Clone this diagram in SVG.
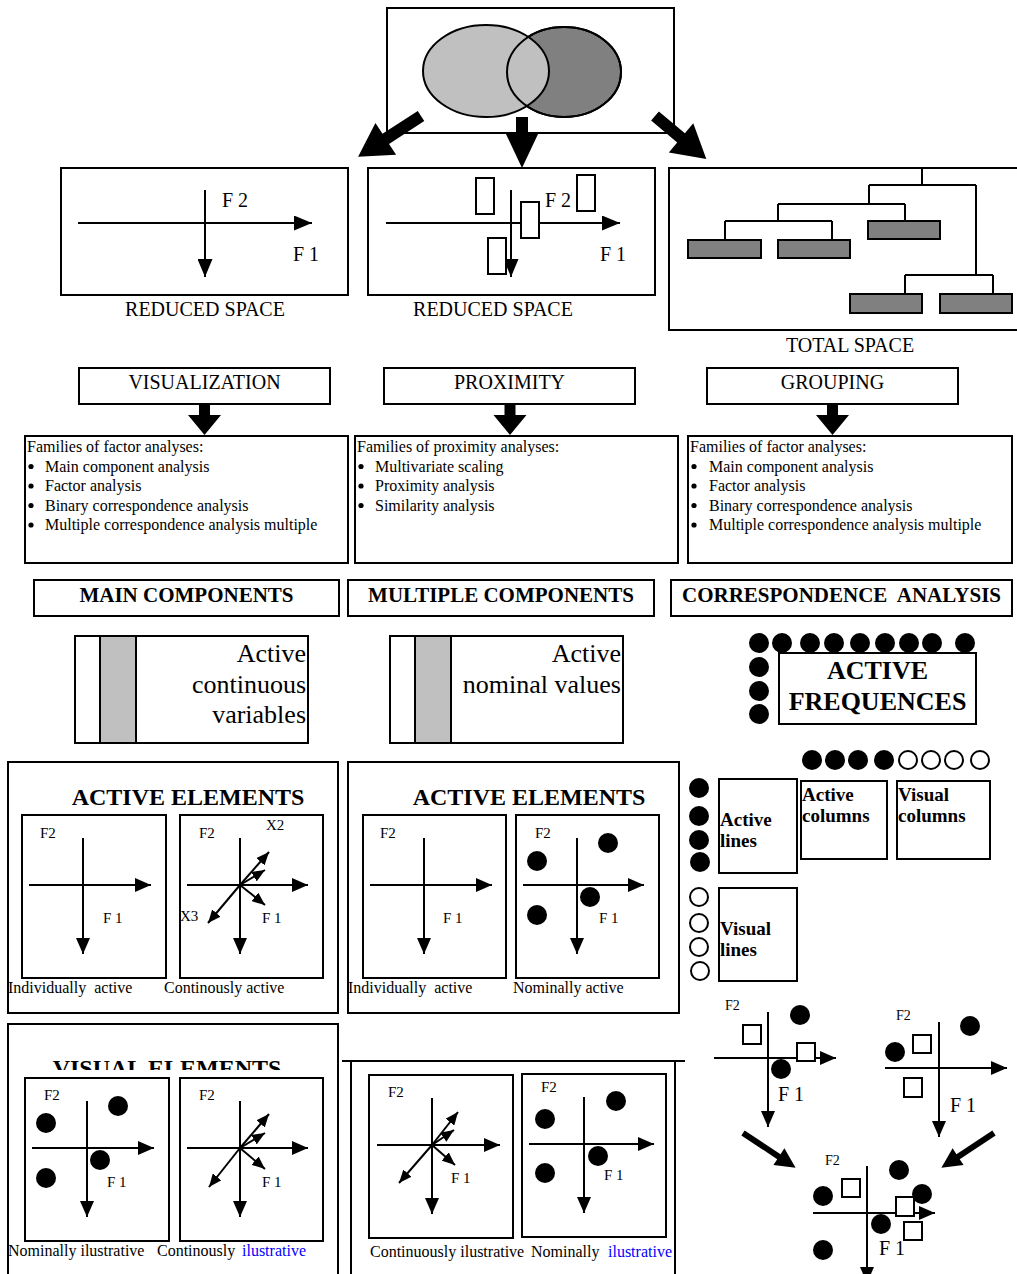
<svg xmlns="http://www.w3.org/2000/svg" width="1017" height="1274" viewBox="0 0 1017 1274">
<style>
.b{fill:#fff;stroke:#000;stroke-width:2}
.n{fill:none;stroke:#000;stroke-width:2}
.t{font-family:"Liberation Serif","Times New Roman",serif;fill:#000}
.s16{font-size:16px}
.s15{font-size:15px}
.s14{font-size:14px}
.s20{font-size:20px}
.bd{font-weight:bold}
.ax{stroke:#000;stroke-width:2;fill:none;marker-end:url(#ah)}
.axl{stroke:#000;stroke-width:2;fill:none;marker-end:url(#ahL)}
.vc{stroke:#000;stroke-width:2;fill:none;marker-end:url(#av)}
.dot{fill:#000}
.od{fill:#fff;stroke:#000;stroke-width:2}
.sq{fill:#fff;stroke:#000;stroke-width:2}
.blk{fill:#000}
.blue{fill:#0000ff}
.pre{white-space:pre}
</style>
<defs>
<marker id="ah" viewBox="0 0 16 14" refX="16" refY="7" markerWidth="16" markerHeight="14" orient="auto" markerUnits="userSpaceOnUse"><path d="M0,0 L16,7 L0,14 z" fill="#000"/></marker>
<marker id="ahL" viewBox="0 0 18 15" refX="18" refY="7.5" markerWidth="18" markerHeight="15" orient="auto" markerUnits="userSpaceOnUse"><path d="M0,0 L18,7.5 L0,15 z" fill="#000"/></marker>
<marker id="av" viewBox="0 0 13 11" refX="13" refY="5.5" markerWidth="13" markerHeight="11" orient="auto" markerUnits="userSpaceOnUse"><path d="M0,0 L13,5.5 L0,11 z" fill="#000"/></marker>
<clipPath id="clipTitle"><rect x="8" y="1024" width="330" height="46"/></clipPath>
</defs>

<g id="venn">
<rect class="b" x="387" y="8" width="287" height="125"/>
<ellipse cx="564" cy="72" rx="57" ry="45" fill="#808080" stroke="#000" stroke-width="2"/>
<ellipse cx="486" cy="71" rx="63" ry="46" fill="#c0c0c0" stroke="#000" stroke-width="2"/>
<ellipse cx="564" cy="72" rx="57" ry="45" class="n"/>
</g>

<g id="reduced1">
<rect class="b" x="61" y="168" width="287" height="127"/>
<line class="axl" x1="78" y1="223" x2="312" y2="223"/>
<line class="axl" x1="205" y1="190" x2="205" y2="277"/>
<text class="t s20" x="222" y="207">F 2</text>
<text class="t s20" x="293" y="261">F 1</text>
<text class="t s20" x="205" y="316" text-anchor="middle">REDUCED SPACE</text>
</g>

<g id="reduced2">
<rect class="b" x="368" y="168" width="287" height="127"/>
<line class="axl" x1="386" y1="223" x2="620" y2="223"/>
<line class="axl" x1="511" y1="190" x2="511" y2="277"/>
<rect class="sq" x="476" y="178" width="18" height="36"/>
<rect class="sq" x="521" y="202" width="18" height="36"/>
<rect class="sq" x="488" y="238" width="18" height="36"/>
<rect class="sq" x="577" y="175" width="18" height="36"/>
<text class="t s20" x="545" y="207">F 2</text>
<text class="t s20" x="600" y="261">F 1</text>
<text class="t s20" x="493" y="316" text-anchor="middle">REDUCED SPACE</text>
</g>

<g id="total">
<path class="n" d="M1017,168 H669 V330 H1017"/>
<path class="n" d="M922,168 V185 M869,185 H976 M869,185 V204 M778,204 H905 M778,204 V221 M725,221 H832 M725,221 V240 M832,221 V240 M905,204 V221 M976,185 V275 M905,275 H993 M905,275 V294 M993,275 V294"/>
<rect x="688" y="240" width="73" height="18" fill="#808080" stroke="#000" stroke-width="2"/>
<rect x="778" y="240" width="72" height="18" fill="#808080" stroke="#000" stroke-width="2"/>
<rect x="868" y="221" width="72" height="18" fill="#808080" stroke="#000" stroke-width="2"/>
<rect x="850" y="294" width="72" height="19" fill="#808080" stroke="#000" stroke-width="2"/>
<rect x="940" y="294" width="72" height="19" fill="#808080" stroke="#000" stroke-width="2"/>
<text class="t s20" x="850" y="352" text-anchor="middle">TOTAL SPACE</text>
</g>

<g id="visualization">
<rect class="b" x="79" y="368" width="251" height="36"/>
<text class="t s20" x="204.5" y="389" text-anchor="middle">VISUALIZATION</text>
</g>
<g id="proximity">
<rect class="b" x="384" y="368" width="251" height="36"/>
<text class="t s20" x="509.5" y="389" text-anchor="middle">PROXIMITY</text>
</g>
<g id="grouping">
<rect class="b" x="707" y="368" width="251" height="36"/>
<text class="t s20" x="832.5" y="389" text-anchor="middle">GROUPING</text>
</g>

<g id="fam1">
<rect class="b" x="25" y="436" width="323" height="127"/>
<text class="t s16" x="27" y="452">Families of factor analyses:</text>
<circle class="dot" cx="31" cy="466.5" r="2.6"/><text class="t s16" x="45" y="471.5">Main component analysis</text>
<circle class="dot" cx="31" cy="486" r="2.6"/><text class="t s16" x="45" y="491">Factor analysis</text>
<circle class="dot" cx="31" cy="505.5" r="2.6"/><text class="t s16" x="45" y="510.5">Binary correspondence analysis</text>
<circle class="dot" cx="31" cy="525" r="2.6"/><text class="t s16" x="45" y="530">Multiple correspondence analysis multiple</text>
</g>
<g id="fam2">
<rect class="b" x="355" y="436" width="323" height="127"/>
<text class="t s16" x="357" y="452">Families of proximity analyses:</text>
<circle class="dot" cx="361" cy="466.5" r="2.6"/><text class="t s16" x="375" y="471.5">Multivariate scaling</text>
<circle class="dot" cx="361" cy="486" r="2.6"/><text class="t s16" x="375" y="491">Proximity analysis</text>
<circle class="dot" cx="361" cy="505.5" r="2.6"/><text class="t s16" x="375" y="510.5">Similarity analysis</text>
</g>
<g id="fam3">
<rect class="b" x="688" y="436" width="324" height="127"/>
<text class="t s16" x="690" y="452">Families of factor analyses:</text>
<circle class="dot" cx="694" cy="466.5" r="2.6"/><text class="t s16" x="709" y="471.5">Main component analysis</text>
<circle class="dot" cx="694" cy="486" r="2.6"/><text class="t s16" x="709" y="491">Factor analysis</text>
<circle class="dot" cx="694" cy="505.5" r="2.6"/><text class="t s16" x="709" y="510.5">Binary correspondence analysis</text>
<circle class="dot" cx="694" cy="525" r="2.6"/><text class="t s16" x="709" y="530">Multiple correspondence analysis multiple</text>
</g>

<g id="hdr1">
<rect class="b" x="34" y="580" width="305" height="36"/>
<text class="t bd" font-size="21" x="186.5" y="602" text-anchor="middle">MAIN COMPONENTS</text>
</g>
<g id="hdr2">
<rect class="b" x="348" y="580" width="306" height="36"/>
<text class="t bd" font-size="21" x="501" y="602" text-anchor="middle">MULTIPLE COMPONENTS</text>
</g>
<g id="hdr3">
<rect class="b" x="671" y="580" width="341" height="36"/>
<text class="t bd pre" font-size="21" x="841.5" y="602" text-anchor="middle">CORRESPONDENCE  ANALYSIS</text>
</g>

<g id="activeCont">
<rect class="b" x="75" y="636" width="233" height="107"/>
<rect x="100" y="636" width="36" height="107" fill="#c0c0c0" stroke="#000" stroke-width="2"/>
<text class="t" font-size="26" x="306" y="662" text-anchor="end">Active</text>
<text class="t" font-size="26" x="306" y="693" text-anchor="end">continuous</text>
<text class="t" font-size="26" x="306" y="723" text-anchor="end">variables</text>
</g>
<g id="activeNom">
<rect class="b" x="390" y="636" width="233" height="107"/>
<rect x="415" y="636" width="36" height="107" fill="#c0c0c0" stroke="#000" stroke-width="2"/>
<text class="t" font-size="26" x="621" y="662" text-anchor="end">Active</text>
<text class="t" font-size="26" x="621" y="693" text-anchor="end">nominal values</text>
</g>

<g id="activeFreq">
<circle class="dot" cx="759" cy="643" r="10"/>
<circle class="dot" cx="782" cy="643" r="10"/>
<circle class="dot" cx="810" cy="643" r="10"/>
<circle class="dot" cx="834" cy="643" r="10"/>
<circle class="dot" cx="860" cy="643" r="10"/>
<circle class="dot" cx="885" cy="643" r="10"/>
<circle class="dot" cx="909" cy="643" r="10"/>
<circle class="dot" cx="932" cy="643" r="10"/>
<circle class="dot" cx="965" cy="643" r="10"/>
<circle class="dot" cx="759" cy="667" r="10"/>
<circle class="dot" cx="759" cy="691" r="10"/>
<circle class="dot" cx="759" cy="714" r="10"/>
<rect class="b" x="779" y="653" width="197" height="71"/>
<text class="t bd" font-size="26" x="877.5" y="679" text-anchor="middle">ACTIVE</text>
<text class="t bd" font-size="26" x="877.5" y="710" text-anchor="middle">FREQUENCES</text>
</g>

<g id="dotsRow">
<circle class="dot" cx="812" cy="760" r="10"/>
<circle class="dot" cx="835" cy="760" r="10"/>
<circle class="dot" cx="858" cy="760" r="10"/>
<circle class="dot" cx="884" cy="760" r="10"/>
<circle class="od" cx="908" cy="760" r="9"/>
<circle class="od" cx="931" cy="760" r="9"/>
<circle class="od" cx="954" cy="760" r="9"/>
<circle class="od" cx="980" cy="760" r="9"/>
</g>
<g id="dotsCol">
<circle class="dot" cx="699" cy="788" r="10"/>
<circle class="dot" cx="699" cy="816" r="10"/>
<circle class="dot" cx="699" cy="840" r="10"/>
<circle class="dot" cx="700" cy="862" r="10"/>
<circle class="od" cx="699" cy="897" r="9"/>
<circle class="od" cx="699" cy="923" r="9"/>
<circle class="od" cx="699" cy="947" r="9"/>
<circle class="od" cx="700" cy="971" r="9"/>
</g>
<g id="activeLines">
<rect class="b" x="719" y="779" width="78" height="94"/>
<text class="t bd" font-size="19" x="720" y="826">Active</text>
<text class="t bd" font-size="19" x="720" y="847">lines</text>
</g>
<g id="activeColumns">
<rect class="b" x="801" y="781" width="86" height="78"/>
<text class="t bd" font-size="19" x="802" y="801">Active</text>
<text class="t bd" font-size="19" x="802" y="822">columns</text>
</g>
<g id="visualColumns">
<rect class="b" x="897" y="781" width="93" height="78"/>
<text class="t bd" font-size="19" x="898" y="801">Visual</text>
<text class="t bd" font-size="19" x="898" y="822">columns</text>
</g>
<g id="visualLines">
<rect class="b" x="719" y="888" width="78" height="93"/>
<text class="t bd" font-size="19" x="720" y="935">Visual</text>
<text class="t bd" font-size="19" x="720" y="956">lines</text>
</g>

<g id="activeElemLeft">
<rect class="b" x="8" y="762" width="330" height="251"/>
<text class="t bd" font-size="24" x="188" y="805" text-anchor="middle">ACTIVE ELEMENTS</text>
<rect class="b" x="22" y="815" width="144" height="163"/>
<line class="ax" x1="29" y1="885" x2="151" y2="885"/>
<line class="ax" x1="83" y1="838" x2="83" y2="954"/>
<text class="t s15" x="40" y="838">F2</text>
<text class="t s15" x="103" y="923">F 1</text>
<rect class="b" x="180" y="815" width="143" height="163"/>
<line class="ax" x1="187" y1="885" x2="308" y2="885"/>
<line class="ax" x1="240" y1="838" x2="240" y2="954"/>
<line class="vc" x1="240" y1="885" x2="269" y2="852"/>
<line class="vc" x1="240" y1="885" x2="265" y2="870"/>
<line class="vc" x1="240" y1="885" x2="265" y2="905"/>
<line class="vc" x1="240" y1="885" x2="208" y2="923"/>
<text class="t s15" x="199" y="838">F2</text>
<text class="t s15" x="266" y="830">X2</text>
<text class="t s15" x="180" y="921">X3</text>
<text class="t s15" x="262" y="923">F 1</text>
<text class="t s16 pre" x="8" y="993">Individually  active</text>
<text class="t s16" x="164" y="993">Continously active</text>
</g>

<g id="activeElemMid">
<rect class="b" x="348" y="762" width="331" height="251"/>
<text class="t bd" font-size="24" x="529" y="805" text-anchor="middle">ACTIVE ELEMENTS</text>
<rect class="b" x="363" y="815" width="143" height="163"/>
<line class="ax" x1="370" y1="885" x2="492" y2="885"/>
<line class="ax" x1="424" y1="838" x2="424" y2="954"/>
<text class="t s15" x="380" y="838">F2</text>
<text class="t s15" x="443" y="923">F 1</text>
<rect class="b" x="516" y="815" width="143" height="163"/>
<line class="ax" x1="523" y1="885" x2="644" y2="885"/>
<line class="ax" x1="577" y1="838" x2="577" y2="954"/>
<circle class="dot" cx="608" cy="843" r="10"/>
<circle class="dot" cx="537" cy="861" r="10"/>
<circle class="dot" cx="590" cy="897" r="10"/>
<circle class="dot" cx="537" cy="915" r="10"/>
<text class="t s15" x="535" y="838">F2</text>
<text class="t s15" x="599" y="923">F 1</text>
<text class="t s16 pre" x="348" y="993">Individually  active</text>
<text class="t s16" x="513" y="993">Nominally active</text>
</g>

<g id="visualElemLeft">
<path class="n" d="M8,1274 V1024 H338 V1274"/>
<text class="t bd" font-size="24" x="167" y="1076" text-anchor="middle" clip-path="url(#clipTitle)">VISUAL ELEMENTS</text>
<rect class="b" x="25" y="1078" width="144" height="163"/>
<line class="ax" x1="32" y1="1148" x2="154" y2="1148"/>
<line class="ax" x1="87" y1="1101" x2="87" y2="1217"/>
<circle class="dot" cx="118" cy="1106" r="10"/>
<circle class="dot" cx="46" cy="1123" r="10"/>
<circle class="dot" cx="100" cy="1160" r="10"/>
<circle class="dot" cx="46" cy="1178" r="10"/>
<text class="t s15" x="44" y="1100">F2</text>
<text class="t s15" x="107" y="1187">F 1</text>
<rect class="b" x="180" y="1078" width="143" height="163"/>
<line class="ax" x1="187" y1="1148" x2="308" y2="1148"/>
<line class="ax" x1="240" y1="1101" x2="240" y2="1217"/>
<line class="vc" x1="240" y1="1148" x2="269" y2="1114"/>
<line class="vc" x1="240" y1="1148" x2="265" y2="1133"/>
<line class="vc" x1="240" y1="1148" x2="265" y2="1169"/>
<line class="vc" x1="240" y1="1148" x2="209" y2="1187"/>
<text class="t s15" x="199" y="1100">F2</text>
<text class="t s15" x="262" y="1187">F 1</text>
<text class="t s16" x="8" y="1256">Nominally ilustrative</text>
<text class="t s16" x="157" y="1256">Continously</text>
<text class="t s16 blue" x="242" y="1256">ilustrative</text>
</g>

<g id="visualElemMid">
<path class="n" d="M342,1061 H685 M351,1061 V1274 M675,1061 V1274"/>
<rect class="b" x="369" y="1075" width="144" height="163"/>
<line class="ax" x1="377" y1="1145" x2="500" y2="1145"/>
<line class="ax" x1="432" y1="1098" x2="432" y2="1214"/>
<line class="vc" x1="432" y1="1145" x2="458" y2="1112"/>
<line class="vc" x1="432" y1="1145" x2="454" y2="1130"/>
<line class="vc" x1="432" y1="1145" x2="455" y2="1165"/>
<line class="vc" x1="432" y1="1145" x2="399" y2="1183"/>
<text class="t s15" x="388" y="1097">F2</text>
<text class="t s15" x="451" y="1183">F 1</text>
<rect class="b" x="522" y="1074" width="144" height="163"/>
<line class="ax" x1="529" y1="1144" x2="654" y2="1144"/>
<line class="ax" x1="584" y1="1097" x2="584" y2="1213"/>
<circle class="dot" cx="616" cy="1101" r="10"/>
<circle class="dot" cx="545" cy="1119" r="10"/>
<circle class="dot" cx="598" cy="1156" r="10"/>
<circle class="dot" cx="545" cy="1173" r="10"/>
<text class="t s15" x="541" y="1092">F2</text>
<text class="t s15" x="604" y="1180">F 1</text>
<text class="t s16" x="370" y="1257">Continuously ilustrative</text>
<text class="t s16" x="531" y="1257">Nominally</text>
<text class="t s16 blue" x="608" y="1257">ilustrative</text>
</g>

<g id="plotA">
<line class="ax" x1="714" y1="1058" x2="836" y2="1058"/>
<line class="ax" x1="768" y1="1012" x2="768" y2="1127"/>
<circle class="dot" cx="800" cy="1015" r="10"/>
<circle class="dot" cx="781" cy="1069" r="10"/>
<rect class="sq" x="743" y="1025" width="18" height="19"/>
<rect class="sq" x="797" y="1043" width="18" height="18"/>
<text class="t s14" x="725" y="1010">F2</text>
<text class="t s20" x="778" y="1101">F 1</text>
</g>
<g id="plotB">
<line class="ax" x1="885" y1="1068" x2="1007" y2="1068"/>
<line class="ax" x1="939" y1="1022" x2="939" y2="1137"/>
<circle class="dot" cx="970" cy="1026" r="10"/>
<circle class="dot" cx="895" cy="1052" r="10"/>
<rect class="sq" x="913" y="1035" width="18" height="18"/>
<rect class="sq" x="904" y="1078" width="18" height="19"/>
<text class="t s14" x="896" y="1020">F2</text>
<text class="t s20" x="950" y="1112">F 1</text>
</g>
<g id="plotC">
<line class="ax" x1="813" y1="1213" x2="935" y2="1213"/>
<line class="ax" x1="867" y1="1166" x2="867" y2="1283"/>
<circle class="dot" cx="899" cy="1170" r="10"/>
<circle class="dot" cx="823" cy="1196" r="10"/>
<circle class="dot" cx="922" cy="1194" r="10"/>
<circle class="dot" cx="881" cy="1224" r="10"/>
<circle class="dot" cx="823" cy="1250" r="10"/>
<rect class="sq" x="842" y="1179" width="18" height="18"/>
<rect class="sq" x="896" y="1197" width="18" height="19"/>
<rect class="sq" x="904" y="1222" width="18" height="18"/>
<text class="t s14" x="825" y="1165">F2</text>
<text class="t s20" x="879" y="1255">F 1</text>
</g>

<g id="connectors">
<polygon class="blk" transform="translate(421,116) rotate(147)" points="0,-6 42,-6 42,-19 75,0 42,19 42,6 0,6"/>
<polygon class="blk" points="516,117 528,117 528,132 539,132 522,168 505,132 516,132"/>
<polygon class="blk" transform="translate(655,116) rotate(40)" points="0,-6 34,-6 34,-19 67,0 34,19 34,6 0,6"/>
<polygon class="blk" points="199,404 210,404 210,415 221,415 204.5,435 188,415 199,415"/>
<polygon class="blk" points="504.5,404 515.5,404 515.5,415 526.5,415 510,435 493.5,415 504.5,415"/>
<polygon class="blk" points="827,404 838,404 838,415 849,415 832.5,435 816,415 827,415"/>
<polygon class="blk" transform="translate(743,1133) rotate(33.4)" points="0,-3 43,-3 43,-10 63,0 43,10 43,3 0,3"/>
<polygon class="blk" transform="translate(994,1133) rotate(146.6)" points="0,-3 43,-3 43,-10 63,0 43,10 43,3 0,3"/>
</g>
</svg>
